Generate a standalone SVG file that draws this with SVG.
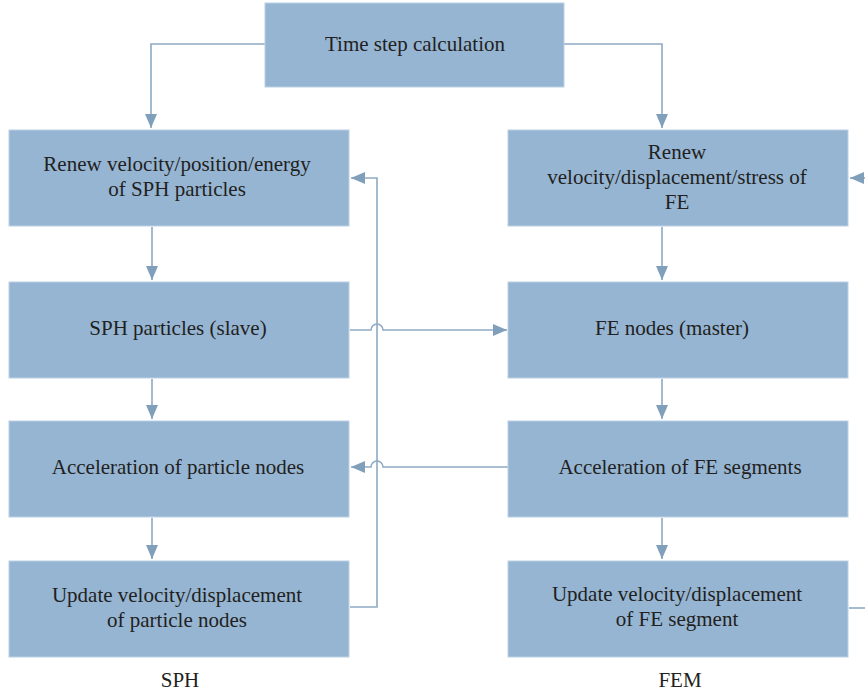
<svg xmlns="http://www.w3.org/2000/svg" width="865" height="695" viewBox="0 0 865 695">
<defs>
<style>
.box{fill:#95b5d3;stroke:#bcd0e3;stroke-width:1}
.t{font-family:"Liberation Serif","Times New Roman",serif;font-size:21px;fill:#231f20;text-anchor:middle;dominant-baseline:central}
.c{fill:none;stroke:#8eaac4;stroke-width:1.6}
</style>
<marker id="ah" viewBox="0 0 14 12" refX="14" refY="6" markerWidth="14" markerHeight="12" markerUnits="userSpaceOnUse" orient="auto">
<path d="M0,0 L14,6 L0,12 Z" fill="#7f9fba"/>
</marker>
</defs>
<rect width="865" height="695" fill="#ffffff"/>
<g id="connectors">
<path class="c" d="M265,44 H151 V128" marker-end="url(#ah)"/>
<path class="c" d="M564,44 H662 V128" marker-end="url(#ah)"/>
<path class="c" d="M152,227 V280" marker-end="url(#ah)"/>
<path class="c" d="M152,379 V419" marker-end="url(#ah)"/>
<path class="c" d="M152,518 V559" marker-end="url(#ah)"/>
<path class="c" d="M662,227 V280" marker-end="url(#ah)"/>
<path class="c" d="M662,379 V419" marker-end="url(#ah)"/>
<path class="c" d="M662,518 V559" marker-end="url(#ah)"/>
<path class="c" d="M350,607 H377 V178 H351" marker-end="url(#ah)"/>
<path class="c" d="M350,330 H371 A6,6 0 0 1 383,330 H507" marker-end="url(#ah)"/>
<path class="c" d="M508,467 H383 A6,6 0 0 0 371,467 H351" marker-end="url(#ah)"/>
<path class="c" d="M849,608 H865"/>
<path class="c" d="M875,178 H850" marker-end="url(#ah)"/>
</g>
<g id="n-time"><rect class="box" x="265" y="3" width="299" height="84"/><text class="t" x="415" y="44">Time step calculation</text></g>
<g id="n-renew-sph"><rect class="box" x="9" y="130" width="340" height="96"/><text class="t" x="177" y="164">Renew velocity/position/energy</text><text class="t" x="177" y="189">of SPH particles</text></g>
<g id="n-sph-particles"><rect class="box" x="9" y="282" width="340" height="96"/><text class="t" x="178" y="328">SPH particles (slave)</text></g>
<g id="n-accel-particle"><rect class="box" x="9" y="421" width="340" height="96"/><text class="t" x="178" y="467">Acceleration of particle nodes</text></g>
<g id="n-update-particle"><rect class="box" x="9" y="561" width="340" height="96"/><text class="t" x="177" y="595">Update velocity/displacement</text><text class="t" x="177" y="620">of particle nodes</text></g>
<g id="n-renew-fe"><rect class="box" x="508" y="130" width="340" height="96"/><text class="t" x="677" y="152">Renew</text><text class="t" x="677" y="177">velocity/displacement/stress of</text><text class="t" x="677" y="202">FE</text></g>
<g id="n-fe-nodes"><rect class="box" x="508" y="282" width="340" height="96"/><text class="t" x="672" y="328">FE nodes (master)</text></g>
<g id="n-accel-fe"><rect class="box" x="508" y="421" width="340" height="96"/><text class="t" x="680" y="467">Acceleration of FE segments</text></g>
<g id="n-update-fe"><rect class="box" x="508" y="561" width="340" height="96"/><text class="t" x="677" y="594">Update velocity/displacement</text><text class="t" x="677" y="619">of FE segment</text></g>
<g id="labels"><text class="t" x="180" y="680">SPH</text><text class="t" x="680" y="680">FEM</text></g>
</svg>
